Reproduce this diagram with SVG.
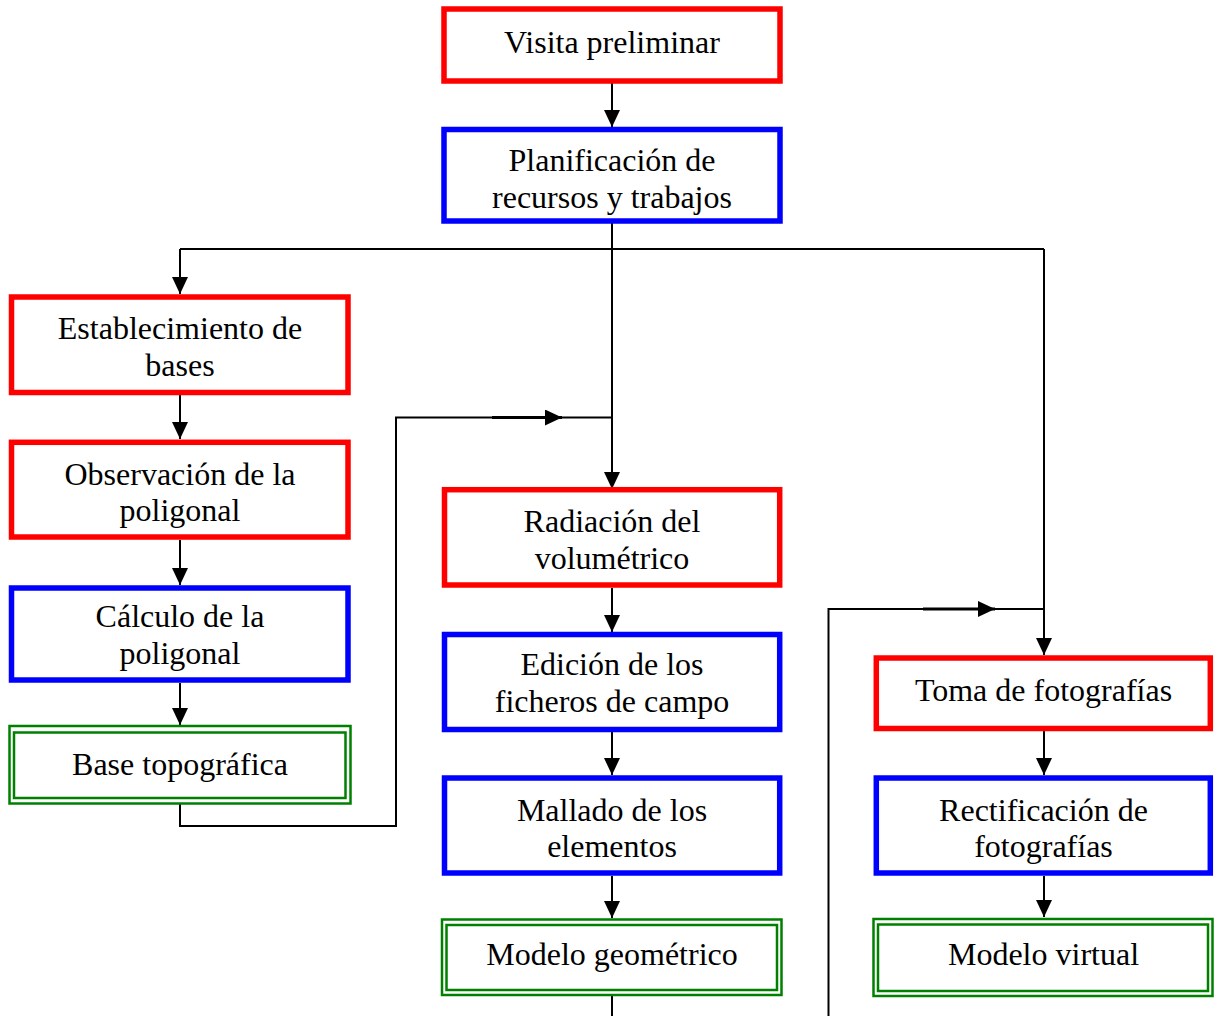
<svg xmlns="http://www.w3.org/2000/svg" width="1214" height="1016" viewBox="0 0 1214 1016">
<style>
.t{font-family:"Liberation Serif","Times New Roman",serif;font-size:32px;fill:#000;text-anchor:middle}
.red{fill:#fff;stroke:#ff0000;stroke-width:5.5}
.blue{fill:#fff;stroke:#0000ff;stroke-width:5.5}
.grn{fill:none;stroke:#008000;stroke-width:2.5}
.ln{fill:none;stroke:#000;stroke-width:2}
.thk{fill:none;stroke:#000;stroke-width:3}
</style>
<defs>
<marker id="ah" markerUnits="userSpaceOnUse" markerWidth="17" markerHeight="16" refX="17" refY="8" orient="auto">
<path d="M0,0 L17,8 L0,16 z" fill="#000"/>
</marker>
</defs>
<rect width="1214" height="1016" fill="#fff"/>
<g id="connectors">
<path class="ln" d="M612,82 V127" marker-end="url(#ah)"/>
<path class="ln" d="M612,222 V489" marker-end="url(#ah)"/>
<path class="ln" d="M180,249 H1044"/>
<path class="ln" d="M180,249 V294" marker-end="url(#ah)"/>
<path class="ln" d="M1044,249 V655" marker-end="url(#ah)"/>
<path class="ln" d="M180,395 V439" marker-end="url(#ah)"/>
<path class="ln" d="M180,540 V585" marker-end="url(#ah)"/>
<path class="ln" d="M180,683 V725" marker-end="url(#ah)"/>
<path class="ln" d="M612,588 V632" marker-end="url(#ah)"/>
<path class="ln" d="M612,732 V775" marker-end="url(#ah)"/>
<path class="ln" d="M612,876 V918" marker-end="url(#ah)"/>
<path class="ln" d="M1044,731 V775" marker-end="url(#ah)"/>
<path class="ln" d="M1044,876 V917" marker-end="url(#ah)"/>
<path class="ln" d="M180,804 V826 H396 V417.5 H612"/>
<path class="thk" d="M492,417.5 H562" marker-end="url(#ah)"/>
<path class="ln" d="M828.5,1016 V609 H1044"/>
<path class="thk" d="M923,609 H995" marker-end="url(#ah)"/>
<path class="ln" d="M612,996 V1016"/>
</g>
<g id="n1"><rect class="red" x="444" y="9" width="336" height="72"/><text class="t" x="612" y="53">Visita preliminar</text></g>
<g id="n2"><rect class="blue" x="444" y="129.5" width="336" height="91.5"/><text class="t" x="612" y="171">Planificación de</text><text class="t" x="612" y="207.5">recursos y trabajos</text></g>
<g id="n3"><rect class="red" x="11.5" y="297" width="336.5" height="95.5"/><text class="t" x="180" y="339">Establecimiento de</text><text class="t" x="180" y="375.5">bases</text></g>
<g id="n4"><rect class="red" x="11.5" y="442.3" width="336.5" height="94.7"/><text class="t" x="180" y="484.5">Observación de la</text><text class="t" x="180" y="520.5">poligonal</text></g>
<g id="n5"><rect class="blue" x="11.5" y="588" width="336.5" height="92"/><text class="t" x="180" y="627">Cálculo de la</text><text class="t" x="180" y="663.5">poligonal</text></g>
<g id="n6"><rect class="grn" x="9.5" y="726" width="341" height="77.5"/><rect class="grn" x="14" y="732.5" width="331.5" height="65.5"/><text class="t" x="180" y="774.5">Base topográfica</text></g>
<g id="n7"><rect class="red" x="444.5" y="489.7" width="335.2" height="95.3"/><text class="t" x="612" y="531.5">Radiación del</text><text class="t" x="612" y="568.5">volumétrico</text></g>
<g id="n8"><rect class="blue" x="444.5" y="634.5" width="335.2" height="95"/><text class="t" x="612" y="675">Edición de los</text><text class="t" x="612" y="711.5">ficheros de campo</text></g>
<g id="n9"><rect class="blue" x="444.5" y="778" width="335.2" height="95"/><text class="t" x="612" y="820.5">Mallado de los</text><text class="t" x="612" y="857">elementos</text></g>
<g id="n10"><rect class="grn" x="442" y="919.5" width="339.5" height="75.5"/><rect class="grn" x="446.5" y="925" width="330.5" height="65"/><text class="t" x="612" y="965">Modelo geométrico</text></g>
<g id="n11"><rect class="red" x="876.3" y="658" width="334" height="70.5"/><text class="t" x="1043.5" y="701">Toma de fotografías</text></g>
<g id="n12"><rect class="blue" x="876.3" y="778" width="334" height="95"/><text class="t" x="1043.5" y="820.5">Rectificación de</text><text class="t" x="1043.5" y="857">fotografías</text></g>
<g id="n13"><rect class="grn" x="873.5" y="919" width="339" height="77"/><rect class="grn" x="878" y="924.5" width="330" height="66.5"/><text class="t" x="1043.5" y="965">Modelo virtual</text></g>
</svg>
